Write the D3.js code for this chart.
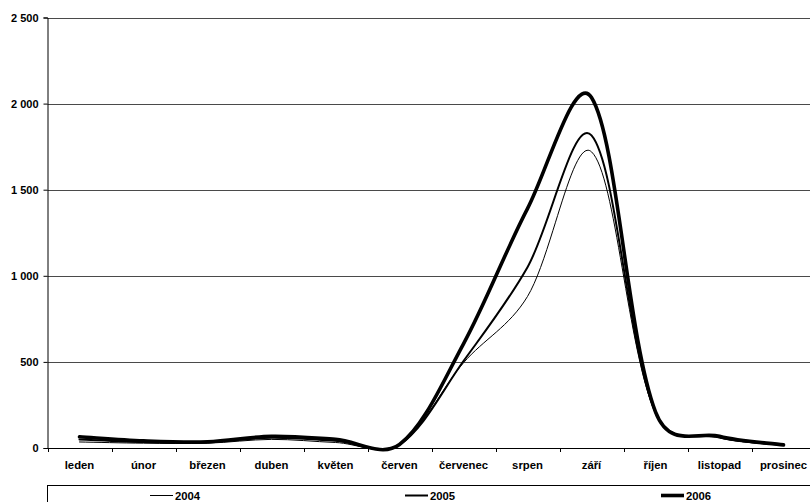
<!DOCTYPE html>
<html>
<head>
<meta charset="utf-8">
<script src="https://cdn.jsdelivr.net/npm/d3@7"></script>
<style>
  html, body { margin: 0; padding: 0; background: #fff; }
  svg { display: block; }
  text { font-family: "Liberation Sans", Arial, sans-serif; font-weight: bold; font-size: 11.3px; fill: #000; }
</style>
</head>
<body>
<svg id="chart" width="810" height="502"></svg>
<script>
// Months (Czech) on the category axis
const months = ["leden", "únor", "březen", "duben", "květen", "červen",
                "červenec", "srpen", "září", "říjen", "listopad", "prosinec"];

// Monthly values per year
const v2004 = [35, 28, 28, 50, 32, 20, 495, 880, 1720, 200, 58, 15];
const v2005 = [50, 35, 32, 60, 42, 20, 505, 1050, 1815, 205, 62, 17];
const v2006 = [65, 42, 36, 68, 50, 20, 605, 1390, 2035, 210, 68, 18];

// Value axis ticks
const yTicks = [0, 500, 1000, 1500, 2000, 2500];

// Series and legend entries
const years = ["2004", "2005", "2006"];
const widths = [1, 2, 3.6];
const seriesValues = [v2004, v2005, v2006];

const svg = d3.select("#chart");

const plotLeft = 47.5, plotRight = 815.5, plotTop = 17.5, plotBottom = 448;

const x = d3.scaleBand().domain(months).range([plotLeft, plotRight]);
const y = d3.scaleLinear().domain([0, 2500]).range([plotBottom, plotTop]);

const cz = d3.formatLocale({ decimal: ",", thousands: " ", grouping: [3], currency: ["", ""] });
const fmt = cz.format(",d");

// Bezier smoothing: Catmull-Rom tangents, half-weighted by neighbouring segment lengths
function smoothCurve(context) {
  let pts = [];
  const dist = (a, b) => Math.hypot(b[0] - a[0], b[1] - a[1]);
  const weight = (a, b) => (a + b) ? 0.5 + 0.5 * (2 * a / (a + b)) : 0;
  return {
    areaStart() {}, areaEnd() {},
    lineStart() { pts = []; },
    point(px, py) { pts.push([+px, +py]); },
    lineEnd() {
      const n = pts.length;
      if (!n) return;
      context.moveTo(pts[0][0], pts[0][1]);
      for (let i = 0; i < n - 1; i++) {
        const p0 = pts[Math.max(i - 1, 0)], p1 = pts[i], p2 = pts[i + 1], p3 = pts[Math.min(i + 2, n - 1)];
        const d01 = dist(p0, p1), d12 = dist(p1, p2), d23 = dist(p2, p3);
        const s1 = weight(d12, d01);
        const s2 = weight(d12, d23);
        const c1 = [p1[0] + (p2[0] - p0[0]) * s1 / 6, p1[1] + (p2[1] - p0[1]) * s1 / 6];
        const c2 = [p2[0] - (p3[0] - p1[0]) * s2 / 6, p2[1] - (p3[1] - p1[1]) * s2 / 6];
        context.bezierCurveTo(c1[0], c1[1], c2[0], c2[1], p2[0], p2[1]);
      }
    }
  };
}

// Horizontal gridlines
svg.append("g")
  .selectAll("line")
  .data(yTicks.filter(d => d > 0))
  .join("line")
  .attr("x1", plotLeft).attr("x2", 810)
  .attr("y1", d => Math.round(y(d)) + 0.5).attr("y2", d => Math.round(y(d)) + 0.5)
  .attr("stroke", "#4a4a4a").attr("stroke-width", 1);

// Value axis
const yAxis = d3.axisLeft(y).tickValues(yTicks).tickFormat(fmt).tickSize(4).tickPadding(5);
const gy = svg.append("g").attr("transform", `translate(${plotLeft},0)`).call(yAxis);
gy.select(".domain").attr("stroke", "#000");
gy.selectAll(".tick line").attr("stroke", "#000");
gy.selectAll(".tick text").attr("font-family", null).attr("font-size", null).style("font-size", "11px");

// Category axis, ticks at category boundaries
const boundaries = d3.range(months.length + 1).map(i => plotLeft + i * x.bandwidth());
svg.append("line")
  .attr("x1", plotLeft).attr("x2", 810)
  .attr("y1", plotBottom + 0.5).attr("y2", plotBottom + 0.5)
  .attr("stroke", "#000");
svg.append("g")
  .selectAll("line")
  .data(boundaries)
  .join("line")
  .attr("x1", d => Math.round(d) + 0.5).attr("x2", d => Math.round(d) + 0.5)
  .attr("y1", plotBottom).attr("y2", plotBottom + 4)
  .attr("stroke", "#000");
svg.append("g")
  .selectAll("text")
  .data(months)
  .join("text")
  .attr("x", d => x(d) + x.bandwidth() / 2)
  .attr("y", 469)
  .attr("text-anchor", "middle")
  .text(d => d);

// Smoothed series lines
const line = d3.line()
  .x((d, i) => x(months[i]) + x.bandwidth() / 2)
  .y(d => y(d))
  .curve(smoothCurve);

svg.append("g")
  .selectAll("path")
  .data(seriesValues)
  .join("path")
  .attr("d", d => line(d))
  .attr("fill", "none")
  .attr("stroke", "#000")
  .attr("stroke-width", (d, i) => widths[i])
  .attr("stroke-linejoin", "round")
  .attr("stroke-linecap", "round");

// Legend box
svg.append("rect")
  .attr("x", plotLeft).attr("y", 485.5)
  .attr("width", 820).attr("height", 40)
  .attr("fill", "#fff").attr("stroke", "#000");

const legendX = [150, 405, 661];
const lg = svg.append("g")
  .selectAll("g")
  .data(years)
  .join("g")
  .attr("transform", (d, i) => `translate(${legendX[i]},0)`);
lg.append("line")
  .attr("x1", 0).attr("x2", 23)
  .attr("y1", 495.5).attr("y2", 495.5)
  .attr("stroke", "#000")
  .attr("stroke-width", (d, i) => widths[i]);
lg.append("text")
  .attr("x", 25).attr("y", 499.5)
  .text(d => d);
</script>
</body>
</html>
